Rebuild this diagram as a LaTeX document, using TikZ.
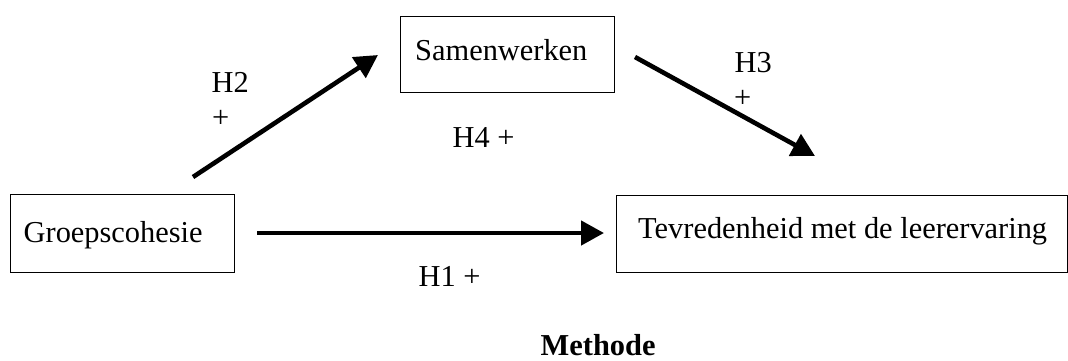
\documentclass[tikz,border=0pt]{standalone}
\usepackage{fontspec}
\setmainfont{Liberation Serif}
\usetikzlibrary{arrows.meta}
\tikzset{
  box/.style={draw=black, line width=1.3pt, rectangle, anchor=north west, inner sep=0pt},
  lbl/.style={anchor=base west, inner sep=0pt, font=\fontsize{30.4}{36}\selectfont},
  conn/.style={line width=4.6pt, -{Triangle[length=23pt,width=24pt]}}
}
\begin{document}
\begin{tikzpicture}[x=1pt,y=-1pt]
\useasboundingbox (0,0) rectangle (1068,360);
% boxes
\node[box, minimum width=214pt, minimum height=76pt] (samen) at (400,16) {};
\node[box, minimum width=224pt, minimum height=78pt] (groep) at (10,194) {};
\node[box, minimum width=450.8pt, minimum height=77pt] (tevr) at (616,195) {};
% box texts
\node[lbl] (samenT) at (415,60) {Samenwerken};
\node[lbl] (groepT) at (23.5,242) {Groepscohesie};
\node[lbl] (tevrT) at (638,238) {Tevredenheid met de leerervaring};
% arrow end points
\coordinate (h2s) at (193,177);
\coordinate (h2e) at (378,55);
\coordinate (h3s) at (635,57);
\coordinate (h3e) at (815,156);
\coordinate (h1s) at (257,233);
\coordinate (h1e) at (604,233);
\draw[conn] (h2s) -- (h2e);
\draw[conn] (h3s) -- (h3e);
\draw[conn] (h1s) -- (h1e);
% labels
\node[lbl] (h2a) at (211.5,92) {H2};
\node[lbl] (h2b) at (212,127.5) {+};
\node[lbl] (h3a) at (734.5,72) {H3};
\node[lbl] (h3b) at (734,107.5) {+};
\node[lbl] (h4) at (452.5,147) {H4 +};
\node[lbl] (h1) at (418.5,286) {H1 +};
\node[lbl, font=\fontsize{30.4}{36}\selectfont\bfseries] (meth) at (540.5,355) {Methode};
\end{tikzpicture}
\end{document}
